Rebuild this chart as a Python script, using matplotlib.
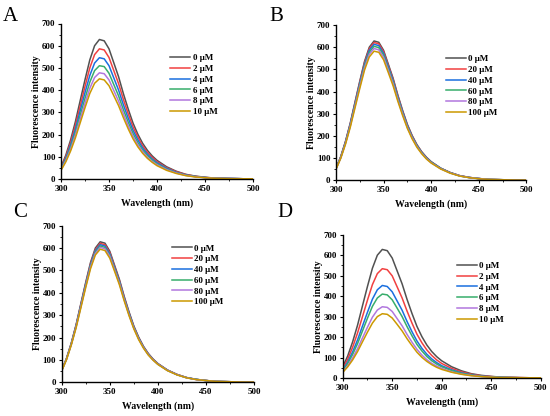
import matplotlib
matplotlib.use("Agg")
import matplotlib.pyplot as plt
from matplotlib.ticker import MultipleLocator

plt.rcParams['font.family'] = ['Liberation Serif', 'DejaVu Serif']

wavelength = [300, 305, 310, 315, 320, 325, 330, 335, 340, 345, 350, 355, 360, 365, 370,
              375, 380, 385, 390, 395, 400, 410, 420, 430, 440, 450, 460, 470, 480, 490, 500]

colors = ["#515151", "#F14040", "#1A6FDF", "#37AD6B", "#B177DE", "#CC9900"]

# Panel A
labels_A = ["0 μM", "2 μM", "4 μM", "6 μM", "8 μM", "10 μM"]
A_0 = [54, 107, 176, 258, 353, 447, 536, 600, 628, 622, 586, 523, 460, 384, 315, 252, 202, 161, 129, 104, 84, 55, 35, 21, 13, 8, 4, 3, 2, 1, 1]
A_2 = [50, 100, 164, 241, 329, 417, 500, 560, 586, 581, 547, 488, 429, 358, 294, 235, 189, 150, 120, 97, 78, 51, 33, 20, 12, 7, 4, 3, 2, 1, 1]
A_4 = [47, 93, 153, 224, 307, 389, 466, 522, 546, 541, 510, 455, 400, 334, 274, 219, 176, 140, 112, 90, 73, 48, 30, 18, 11, 7, 3, 3, 2, 1, 1]
A_6 = [44, 87, 143, 210, 287, 363, 436, 488, 510, 506, 476, 425, 374, 312, 256, 205, 164, 131, 105, 85, 68, 45, 28, 17, 11, 6, 3, 2, 2, 1, 1]
A_8 = [41, 82, 134, 197, 269, 341, 408, 457, 478, 474, 446, 398, 350, 293, 240, 192, 154, 123, 98, 79, 64, 42, 27, 16, 10, 6, 3, 2, 2, 1, 1]
A_10 = [39, 77, 126, 185, 253, 321, 385, 431, 451, 446, 420, 375, 330, 276, 226, 181, 145, 116, 93, 75, 60, 39, 25, 15, 9, 6, 3, 2, 1, 1, 1]

# Panel B
labels_B = ["0 μM", "20 μM", "40 μM", "60 μM", "80 μM", "100 μM"]
B_0 = A_0
B_20 = [53, 106, 174, 255, 349, 442, 530, 593, 621, 615, 580, 517, 455, 380, 311, 249, 200, 159, 128, 103, 83, 54, 35, 21, 13, 8, 4, 3, 2, 1, 1]
B_40 = [53, 104, 172, 252, 345, 436, 523, 586, 613, 607, 572, 511, 449, 375, 308, 246, 197, 157, 126, 102, 82, 54, 34, 20, 13, 8, 4, 3, 2, 1, 1]
B_60 = [52, 103, 169, 248, 340, 430, 516, 577, 604, 598, 564, 503, 442, 369, 303, 242, 194, 155, 124, 100, 81, 53, 34, 20, 12, 8, 4, 3, 2, 1, 1]
B_80 = [51, 101, 166, 244, 334, 423, 507, 568, 594, 588, 554, 495, 435, 363, 298, 238, 191, 152, 122, 98, 79, 52, 33, 20, 12, 8, 4, 3, 2, 1, 1]
B_100 = [50, 99, 163, 239, 327, 414, 497, 556, 582, 577, 543, 485, 426, 356, 292, 234, 187, 149, 120, 96, 78, 51, 32, 19, 12, 7, 4, 3, 2, 1, 1]

# Panel C
labels_C = ["0 μM", "20 μM", "40 μM", "60 μM", "80 μM", "100 μM"]
C_0 = A_0
C_20 = [53, 106, 174, 255, 349, 442, 530, 593, 621, 615, 580, 517, 455, 380, 311, 249, 200, 159, 128, 103, 83, 54, 35, 21, 13, 8, 4, 3, 2, 1, 1]
C_40 = [53, 105, 172, 253, 346, 438, 525, 588, 615, 609, 574, 512, 451, 376, 309, 247, 198, 158, 126, 102, 82, 54, 34, 21, 13, 8, 4, 3, 2, 1, 1]
C_60 = [52, 104, 171, 250, 342, 434, 520, 582, 609, 603, 568, 507, 446, 372, 305, 244, 196, 156, 125, 101, 81, 53, 34, 20, 13, 8, 4, 3, 2, 1, 1]
C_80 = [52, 103, 169, 248, 339, 429, 515, 576, 603, 597, 563, 502, 442, 369, 302, 242, 194, 155, 124, 100, 81, 53, 34, 20, 12, 8, 4, 3, 2, 1, 1]
C_100 = [51, 101, 167, 244, 334, 424, 508, 569, 595, 589, 555, 496, 436, 364, 298, 239, 191, 153, 122, 99, 80, 52, 33, 20, 12, 8, 4, 3, 2, 1, 1]

# Panel D
labels_D = ["0 μM", "2 μM", "4 μM", "6 μM", "8 μM", "10 μM"]
D_0 = A_0
D_2 = [46, 91, 150, 220, 300, 380, 456, 510, 534, 529, 499, 445, 391, 327, 268, 214, 172, 137, 110, 88, 71, 47, 30, 18, 11, 7, 3, 3, 2, 1, 1]
D_4 = [39, 77, 127, 186, 254, 321, 385, 431, 452, 447, 421, 376, 331, 276, 226, 181, 145, 116, 93, 75, 60, 40, 25, 15, 9, 6, 3, 2, 1, 1, 1]
D_6 = [35, 70, 115, 168, 230, 292, 350, 391, 410, 406, 382, 341, 300, 251, 206, 164, 132, 105, 84, 68, 55, 36, 23, 14, 8, 5, 3, 2, 1, 1, 1]
D_8 = [30, 59, 98, 143, 196, 248, 297, 332, 348, 345, 325, 290, 255, 213, 175, 140, 112, 89, 71, 58, 47, 30, 19, 12, 7, 4, 2, 2, 1, 1, 1]
D_10 = [27, 54, 88, 129, 177, 224, 268, 300, 314, 311, 293, 262, 230, 192, 158, 126, 101, 81, 65, 52, 42, 28, 18, 11, 7, 4, 2, 2, 1, 1, 1]

xticks = [300, 350, 400, 450, 500]
yticks = [0, 100, 200, 300, 400, 500, 600, 700]

W, H = 550, 416
fig = plt.figure(figsize=(W / 100, H / 100), dpi=100)

def px_rect(x0, x1, y_top, y_bot):
    return [x0 / W, 1 - y_bot / H, (x1 - x0) / W, (y_bot - y_top) / H]

panels = [
    ("A", px_rect(61, 253, 23.5, 179), [A_0, A_2, A_4, A_6, A_8, A_10], labels_A, (170, 54), (3, 21)),
    ("B", px_rect(336, 526.3, 25, 180.3), [B_0, B_20, B_40, B_60, B_80, B_100], labels_B, (445.7, 55), (269, 21)),
    ("C", px_rect(61.7, 254, 225.7, 382.3), [C_0, C_20, C_40, C_60, C_80, C_100], labels_C, (171.7, 244.3), (12.7, 217)),
    ("D", px_rect(342.7, 540.7, 234.7, 378), [D_0, D_2, D_4, D_6, D_8, D_10], labels_D, (456.7, 261.7), (277, 217)),
]

for letter, rect, series, labels, leg_xy, let_xy in panels:
    ax = fig.add_axes(rect)
    handles = []
    for ys, c, lab in zip(series, colors, labels):
        h, = ax.plot(wavelength, ys, color=c, lw=1.1, label=lab)
        handles.append(h)
    ax.set_xlim(300, 500)
    ax.set_ylim(0, 700)
    ax.set_xticks(xticks)
    ax.set_yticks(yticks)
    ax.xaxis.set_minor_locator(MultipleLocator(25))
    ax.yaxis.set_minor_locator(MultipleLocator(50))
    for s in ("top", "right"):
        ax.spines[s].set_visible(False)
    for s in ("left", "bottom"):
        ax.spines[s].set_linewidth(1.0)
    ax.tick_params(which="major", direction="out", length=2.5, width=0.8, labelsize=6.5, pad=1.5)
    ax.tick_params(which="minor", direction="out", length=1.5, width=0.6)
    for t in ax.get_xticklabels() + ax.get_yticklabels():
        t.set_fontweight("bold")
    ax.set_xlabel("Wavelength (nm)", fontsize=7, fontweight="bold", labelpad=4)
    ax.set_ylabel("Fluorescence intensity", fontsize=7, fontweight="bold", labelpad=0.5)
    ax.legend(handles=handles, labels=labels, loc="upper left",
              bbox_to_anchor=(leg_xy[0] / W, 1 - leg_xy[1] / H), bbox_transform=fig.transFigure,
              frameon=False, borderpad=0, borderaxespad=0, handlelength=2.2, handletextpad=0.3,
              labelspacing=0.27, prop={"size": 6.5, "weight": "bold"})
    fig.text(let_xy[0] / W, 1 - let_xy[1] / H, letter, fontsize=15, ha="left", va="baseline")

fig.savefig("out.png", dpi=100)
